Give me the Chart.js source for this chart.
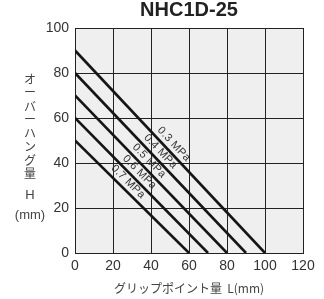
<!DOCTYPE html>
<html><head><meta charset="utf-8">
<script src="https://cdn.jsdelivr.net/npm/chart.js@4.4.1/dist/chart.umd.min.js"></script>
<style>html,body{margin:0;padding:0;background:#fff}#wrap{width:324px;height:299px}</style>
</head><body><div id="wrap"><canvas id="c" width="324" height="299"></canvas></div>
<script>
const chartTitle = 'NHC1D-25';
const pressures = ['0.3 MPa', '0.4 MPa', '0.5 MPa', '0.6 MPa', '0.7 MPa'];
const overhangAtZero = [90, 80, 70, 60, 50];      // H at L = 0
const gripAtZero = [100, 90, 80, 70, 60];         // L at H = 0
const xTicks = [0, 20, 40, 60, 80, 100, 120];
const yTicks = [0, 20, 40, 60, 80, 100];
const yTitleChars = ['オ','ー','バ','ー','ハ','ン','グ','量'];
const xTitle = 'グリップポイント量  L(mm)';
const labelAt = [49, 42, 36, 31, 25]; // L where the pressure label sits

const FONT = '"Liberation Sans", Arial, sans-serif';

const datasets = pressures.map((p, i) => ({
  label: p,
  data: [{x: 0, y: overhangAtZero[i]}, {x: gripAtZero[i], y: 0}],
  borderColor: '#151515',
  borderWidth: 2.6,
  pointRadius: 0,
  fill: false
}));

const deco = {
  id: 'deco',
  beforeDraw(chart) {
    const {ctx, chartArea: a} = chart;
    ctx.save();
    ctx.fillStyle = '#efefef';
    ctx.fillRect(a.left, a.top, a.right - a.left, a.bottom - a.top);
    ctx.restore();
  },
  afterDatasetsDraw(chart) {
    const {ctx} = chart;
    const xs = chart.scales.x, ys = chart.scales.y;
    ctx.save();
    ctx.font = '11px ' + FONT;
    ctx.letterSpacing = '0.3px';
    ctx.fillStyle = '#333';
    ctx.textAlign = 'center';
    ctx.textBaseline = 'middle';
    pressures.forEach((p, i) => {
      const x0 = xs.getPixelForValue(0), y0 = ys.getPixelForValue(overhangAtZero[i]);
      const x1 = xs.getPixelForValue(gripAtZero[i]), y1 = ys.getPixelForValue(0);
      const ang = Math.atan2(y1 - y0, x1 - x0);
      const L = labelAt[i];
      const H = overhangAtZero[i] * (1 - L / gripAtZero[i]);
      const px = xs.getPixelForValue(L), py = ys.getPixelForValue(H);
      const off = 8;
      const cx = px + Math.sin(ang) * off, cy = py - Math.cos(ang) * off;
      ctx.save();
      ctx.translate(cx, cy);
      ctx.rotate(ang);
      ctx.fillText(p, 0, 0);
      ctx.restore();
    });
    ctx.restore();
  },
  afterDraw(chart) {
    const {ctx, chartArea: a} = chart;
    ctx.save();
    ctx.fillStyle = '#222';
    ctx.font = 'bold 20px ' + FONT;
    ctx.textAlign = 'center';
    ctx.textBaseline = 'alphabetic';
    ctx.fillText(chartTitle, (a.left + a.right) / 2, 15.5);
    ctx.fillStyle = '#444';
    ctx.font = '12px "Noto Sans CJK JP", sans-serif';
    ctx.textBaseline = 'middle';
    yTitleChars.forEach((ch, k) => {
      ctx.fillText(ch, 30, 79 + k * 13.5);
    });
    ctx.font = '13px ' + FONT;
    ctx.fillText('H', 30, 195);
    ctx.fillText('(mm)', 30, 215);
    ctx.font = '12px "Noto Sans CJK JP", sans-serif';
    ctx.fillText(xTitle, (a.left + a.right) / 2, 288);
    ctx.restore();
  }
};

new Chart(document.getElementById('c'), {
  type: 'line',
  data: {datasets},
  options: {
    responsive: false,
    animation: false,
    layout: {padding: {top: 28, right: 21, left: 0, bottom: 0}},
    plugins: {legend: {display: false}, title: {display: false}, tooltip: {enabled: false}},
    scales: {
      x: {
        type: 'linear', min: 0, max: 120,
        afterBuildTicks: s => { s.ticks = xTicks.map(v => ({value: v})); },
        afterFit: s => { s.height = 46; },
        grid: {color: '#222', lineWidth: 1, drawTicks: false},
        border: {color: '#222', width: 1},
        ticks: {color: '#333', font: {family: FONT, size: 14}, padding: 5, maxRotation: 0}
      },
      y: {
        type: 'linear', min: 0, max: 100,
        afterBuildTicks: s => { s.ticks = yTicks.map(v => ({value: v})); },
        afterFit: s => { s.width = 75; },
        grid: {color: '#222', lineWidth: 1, drawTicks: false},
        border: {color: '#222', width: 1},
        ticks: {color: '#333', font: {family: FONT, size: 14}, padding: 6}
      }
    }
  },
  plugins: [deco]
});
</script></body></html>
